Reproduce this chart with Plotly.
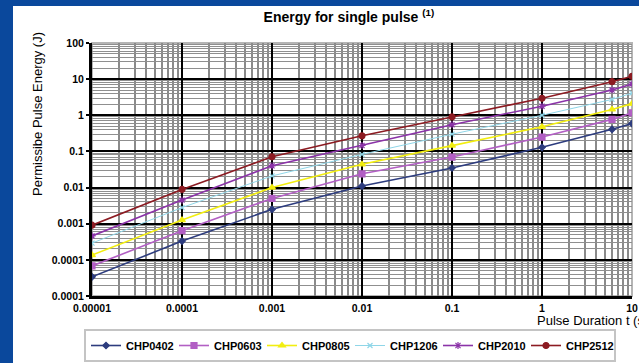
import plotly.graph_objects as go

# ---- data ----
pulse_duration = [0.00001, 0.0001, 0.001, 0.01, 0.1, 1, 6, 10]
chp0402 = [0.000034, 0.00033, 0.0025, 0.011, 0.035, 0.13, 0.41, 0.59]
chp0603 = [0.000068, 0.00064, 0.0050, 0.024, 0.070, 0.25, 0.77, 1.17]
chp0805 = [0.000136, 0.00126, 0.010, 0.044, 0.145, 0.48, 1.45, 2.1]
chp1206 = [0.00029, 0.0028, 0.021, 0.083, 0.30, 1.0, 2.75, 4.1]
chp2010 = [0.00046, 0.0045, 0.040, 0.146, 0.55, 1.78, 5.0, 7.3]
chp2512 = [0.00091, 0.0089, 0.071, 0.27, 0.90, 2.95, 8.5, 12.0]

series_names = ["CHP0402", "CHP0603", "CHP0805", "CHP1206", "CHP2010", "CHP2512"]
series_values = [chp0402, chp0603, chp0805, chp1206, chp2010, chp2512]

x_tick_vals = [0.00001, 0.0001, 0.001, 0.01, 0.1, 1, 10]
x_tick_text = ["0.00001", "0.0001", "0.001", "0.01", "0.1", "1", "10"]
y_tick_vals = [0.00001, 0.0001, 0.001, 0.01, 0.1, 1, 10, 100]
y_tick_text = ["0.0001", "0.0001", "0.001", "0.01", "0.1", "1", "10", "100"]

# ---- styles ----
colors = ["#2d3c7e", "#b25fc4", "#f2ee10", "#8fd6e8", "#8b33a8", "#8c1b22"]
symbols = ["diamond", "square", "triangle-up", "x-thin-open", "asterisk-open", "circle"]
msizes = [5, 6, 6, 5, 6, 6]
lwidths = [1.6, 1.6, 1.6, 1.0, 1.6, 1.6]

FONT = "Liberation Sans, Arial, sans-serif"

fig = go.Figure()
for name, vals, c, s, ms, lw in zip(series_names, series_values, colors, symbols, msizes, lwidths):
    fig.add_trace(go.Scatter(
        x=pulse_duration, y=vals, name=name, mode="lines+markers",
        line=dict(color=c, width=lw),
        marker=dict(symbol=s, size=ms, color=c, line=dict(color=c, width=1.2)),
    ))

axis_common = dict(
    type="log",
    showline=True, linecolor="black", linewidth=3,
    showgrid=True, gridcolor="black", gridwidth=2,
    tickfont=dict(family=FONT, size=10.5, color="black", weight="bold"),
    zeroline=False,
)

fig.update_xaxes(
    **axis_common,
    range=[-5, 1],
    ticks="",
    tickvals=x_tick_vals, ticktext=x_tick_text,
    minor=dict(dtick="D1", showgrid=True, gridcolor="#8a8a8a", gridwidth=1.5, ticks=""),
)
fig.update_yaxes(
    **axis_common,
    range=[-5, 2],
    ticks="outside", ticklen=3, tickwidth=2, tickcolor="black",
    tickvals=y_tick_vals, ticktext=y_tick_text,
    minor=dict(dtick="D1", showgrid=True, gridcolor="#8f8f8f", gridwidth=1, ticks=""),
)

PW, PH = 540, 253  # plot area size in px (for converting layout positions)

fig.update_layout(
    width=639, height=363,
    margin=dict(l=92, r=7, t=43, b=67, autoexpand=False),
    paper_bgcolor="white", plot_bgcolor="white",
    font=dict(family=FONT, color="black"),
    title=dict(
        text="<b>Energy for single pulse <sup>(1)</sup></b>",
        font=dict(family=FONT, size=14, color="black"),
        x=0.546, xanchor="center", xref="container",
        y=0.952, yanchor="middle", yref="container",
    ),
    showlegend=True,
    legend=dict(
        orientation="h",
        x=(84 - 92) / PW, xanchor="left",
        y=(296 - 345.5) / PH, yanchor="middle",
        bgcolor="white", bordercolor="#c4c4c4", borderwidth=2,
        font=dict(family=FONT, size=11, color="black", weight="bold"),
        entrywidth=43, entrywidthmode="pixels",
        itemwidth=30,
    ),
    shapes=[
        # plot frame (top/right light gray)
        dict(type="rect", xref="paper", yref="paper", x0=0, x1=1, y0=0, y1=1,
             line=dict(color="#b5b5b5", width=2), layer="below"),
        # blue page border (left + top)
        dict(type="rect", xref="paper", yref="paper",
             x0=-0.2, x1=(13 - 92) / PW, y0=-0.3, y1=1.2,
             fillcolor="#0a489c", line=dict(width=0), layer="below"),
        dict(type="rect", xref="paper", yref="paper",
             x0=-0.2, x1=1.1, y0=(296 - 6) / PH, y1=1.2,
             fillcolor="#0a489c", line=dict(width=0), layer="below"),
    ],
    annotations=[
        dict(text="Permissibe Pulse Energy (J)", textangle=-90,
             xref="paper", yref="paper", x=(37 - 92) / PW, y=(296 - 114) / PH,
             xanchor="center", yanchor="middle", showarrow=False,
             font=dict(family=FONT, size=13, color="black")),
        dict(text="Pulse Duration t (s)",
             xref="paper", yref="paper", x=(535 - 92) / PW, y=(296 - 320) / PH,
             xanchor="left", yanchor="middle", showarrow=False,
             font=dict(family=FONT, size=13, color="black")),
    ],
)

fig.write_html(
    "out.html",
    config={"displayModeBar": False},
    post_script="document.body.style.margin='0';document.body.style.padding='0';"
                "document.documentElement.style.overflow='hidden';",
)
